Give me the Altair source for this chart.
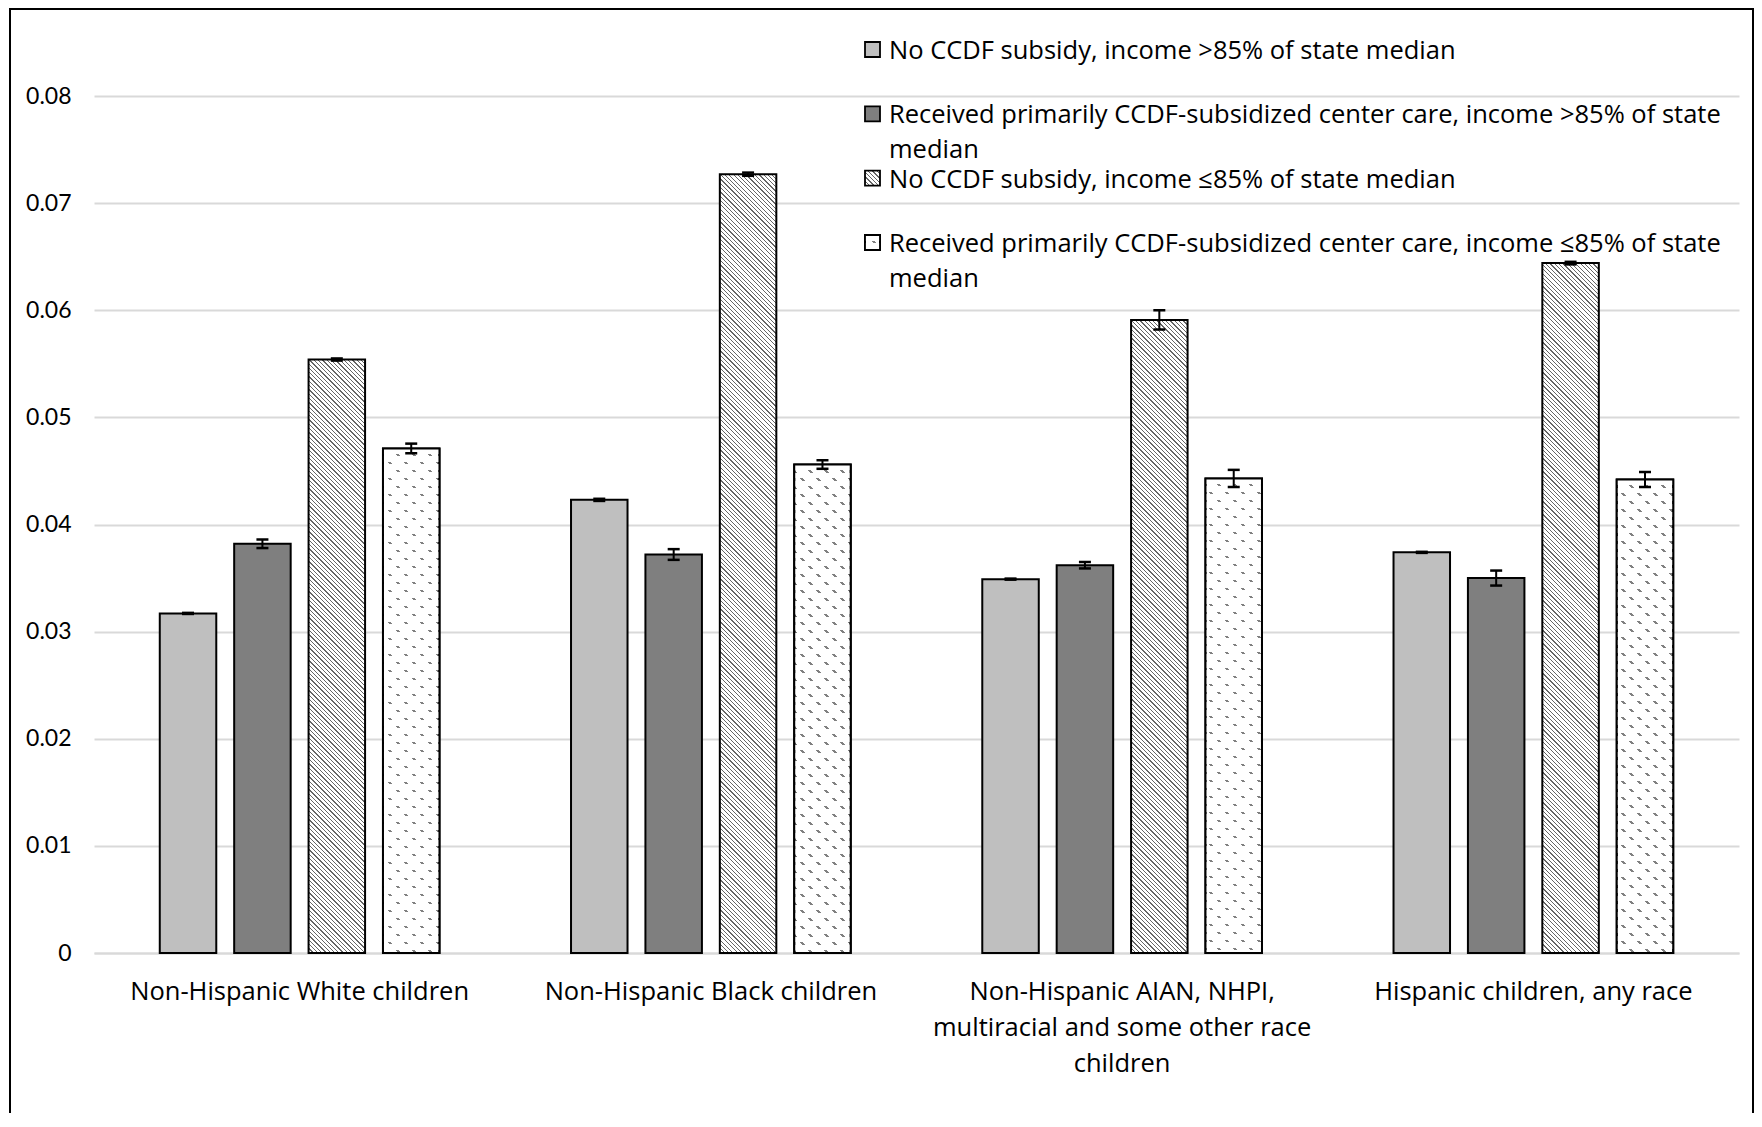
import altair as alt

# ---------------- data ----------------
categories = [
    "Non-Hispanic White children",
    "Non-Hispanic Black children",
    "Non-Hispanic AIAN, NHPI,\nmultiracial and some other race\nchildren",
    "Hispanic children, any race",
]
series = [
    "No CCDF subsidy, income >85% of state median",
    "Received primarily CCDF-subsidized center care, income >85% of state median",
    "No CCDF subsidy, income ≤85% of state median",
    "Received primarily CCDF-subsidized center care, income ≤85% of state median",
]
legend_labels = [
    "No CCDF subsidy, income >85% of state median",
    "Received primarily CCDF-subsidized center care, income >85% of state\nmedian",
    "No CCDF subsidy, income ≤85% of state median",
    "Received primarily CCDF-subsidized center care, income ≤85% of state\nmedian",
]
no_sub_high = [0.0317, 0.0423, 0.0349, 0.0374]
ccdf_high = [0.0382, 0.0372, 0.0362, 0.0350]
no_sub_low = [0.0554, 0.0727, 0.0591, 0.0644]
ccdf_low = [0.0471, 0.0456, 0.0443, 0.0442]
err_no_sub_high = [0.00005, 0.0001, 0.00005, 0.00005]
err_ccdf_high = [0.0004, 0.0005, 0.0003, 0.0007]
err_no_sub_low = [0.0001, 0.00015, 0.0009, 0.00012]
err_ccdf_low = [0.00045, 0.0004, 0.0008, 0.0007]
y_ticks = [0, 0.01, 0.02, 0.03, 0.04, 0.05, 0.06, 0.07, 0.08]

all_values = [no_sub_high, ccdf_high, no_sub_low, ccdf_low]
all_errors = [err_no_sub_high, err_ccdf_high, err_no_sub_low, err_ccdf_low]

# ---------------- layout / style ----------------
FONT = "Open Sans"
NUM_FONT = "Lato"
FS = 25.5
NUM_FS = 23
W, H = 1645, 857
YMAX = 0.08
PX = H / YMAX
GROUP_STEP = W / len(categories)
BAR_W, BAR_STEP = 56.5, 74.4
P_IN = 1 - BAR_W / BAR_STEP
P_OUT = (GROUP_STEP / BAR_STEP - len(series) + P_IN) / 2
LIGHT, DARK = "#bfbfbf", "#7f7f7f"
WHITE, CLEAR = "#ffffff", "rgba(255,255,255,0)"


def diag_grad(w, h, period, lw, color, bg=WHITE):
    """Diagonal '\\' stripes at 45 degrees inside a w x h box."""
    span = w + h
    c = w * (w + h) / (w * w + h * h)
    stops = [{"offset": 0, "color": bg}]
    k = 0
    while k * period < span:
        a = k * period
        b = min(a + lw, span)
        stops += [
            {"offset": round(a / span, 5), "color": bg},
            {"offset": round(a / span, 5), "color": color},
            {"offset": round(b / span, 5), "color": color},
            {"offset": round(b / span, 5), "color": bg},
        ]
        k += 1
    stops.append({"offset": 1, "color": bg})
    return {"gradient": "linear", "x1": 0, "y1": 1, "x2": round(c, 5),
            "y2": round(1 - c * h / w, 5), "stops": stops}


def band_grad(h, period, gap):
    """Horizontal opaque white bands with transparent gaps."""
    stops = []
    k = 0
    while k * period < h:
        a = k * period
        m = min(a + period - gap, h)
        e = min(a + period, h)
        stops += [
            {"offset": round(a / h, 5), "color": WHITE},
            {"offset": round(m / h, 5), "color": WHITE},
            {"offset": round(m / h, 5), "color": CLEAR},
            {"offset": round(e / h, 5), "color": CLEAR},
        ]
        k += 1
    return {"gradient": "linear", "x1": 0, "y1": 0, "x2": 0, "y2": 1, "stops": stops}


def fill_for(si, w, h):
    if si == 0:
        return LIGHT
    if si == 1:
        return DARK
    if si == 2:
        return diag_grad(w, h, 4.3, 1.25, "#666666")
    return diag_grad(w, h, 16, 3.0, "#808080")


bar_rows, dot_rows = [], []
for si, s in enumerate(series):
    for ci, c in enumerate(categories):
        v = all_values[si][ci]
        e = all_errors[si][ci]
        h = v * PX
        bar_rows.append({"cat": c, "ser": s, "v": v, "lo": v - e, "hi": v + e,
                         "fill": fill_for(si, BAR_W, h)})
        if si == 3:
            dot_rows.append({"cat": c, "ser": s, "v": v, "fill": band_grad(h, 8, 2.5)})

leg_rows, leg_dot_rows = [], []
for si, s in enumerate(series):
    leg_rows.append({"ser": s, "label": legend_labels[si], "fill": fill_for(si, 15, 15)})
    if si == 3:
        leg_dot_rows.append({"ser": s, "fill": band_grad(15, 8, 2.5)})

# ---------------- encodings ----------------
x_enc = alt.X("cat:N", sort=categories,
              scale=alt.Scale(domain=categories, paddingInner=0, paddingOuter=0),
              axis=alt.Axis(title=None, labelAngle=0, labelAlign="center",
                            labelExpr="split(datum.label, '\\n')",
                            labelLineHeight=36, labelPadding=26, labelLimit=600,
                            ticks=False, domain=True, domainColor="#d9d9d9",
                            domainWidth=2, grid=False, labelFont=FONT,
                            labelFontSize=FS, labelColor="#000000"))
xo_enc = alt.XOffset("ser:N", sort=series,
                     scale=alt.Scale(domain=series, paddingInner=P_IN, paddingOuter=P_OUT))
y_scale = alt.Scale(domain=[0, YMAX], nice=False, zero=True)
y_axis = alt.Axis(title=None, values=y_ticks, format=".2~f", ticks=False, domain=False,
                  grid=True, gridColor="#d9d9d9", gridWidth=2, labelPadding=23,
                  labelFont=NUM_FONT, labelFontSize=NUM_FS, labelColor="#000000")

bars = alt.Chart(alt.Data(values=bar_rows)).mark_bar(
    stroke="black", strokeWidth=2, opacity=1
).encode(
    x=x_enc, xOffset=xo_enc,
    y=alt.Y("v:Q", scale=y_scale, axis=y_axis),
    fill=alt.Fill("fill:N", scale=None),
)

dots_overlay = alt.Chart(alt.Data(values=dot_rows)).mark_bar(
    stroke="black", strokeWidth=2, opacity=1
).encode(
    x=x_enc, xOffset=xo_enc,
    y=alt.Y("v:Q", scale=y_scale, axis=y_axis),
    fill=alt.Fill("fill:N", scale=None),
)

err_rule = alt.Chart(alt.Data(values=bar_rows)).mark_rule(
    color="black", strokeWidth=2
).encode(
    x=x_enc, xOffset=xo_enc,
    y=alt.Y("lo:Q", scale=y_scale, axis=y_axis), y2="hi:Q",
)
err_lo = alt.Chart(alt.Data(values=bar_rows)).mark_tick(
    color="black", thickness=2.5, size=12, opacity=1
).encode(x=x_enc, xOffset=xo_enc, y=alt.Y("lo:Q", scale=y_scale, axis=y_axis))
err_hi = alt.Chart(alt.Data(values=bar_rows)).mark_tick(
    color="black", thickness=2.5, size=12, opacity=1
).encode(x=x_enc, xOffset=xo_enc, y=alt.Y("hi:Q", scale=y_scale, axis=y_axis))

main = alt.layer(bars, dots_overlay, err_rule, err_lo, err_hi)

leg_y = alt.Y("ser:N", sort=series,
              scale=alt.Scale(type="point", domain=series, range=[-46.5, 146.5], padding=0),
              axis=None)
leg_sq = alt.Chart(alt.Data(values=leg_rows)).mark_square(
    size=225, filled=True, opacity=1, stroke="black", strokeWidth=1.8
).encode(x=alt.value(778.5), y=leg_y, fill=alt.Fill("fill:N", scale=None))
leg_sq_dots = alt.Chart(alt.Data(values=leg_dot_rows)).mark_square(
    size=225, filled=True, opacity=1, stroke="black", strokeWidth=1.8
).encode(x=alt.value(778.5), y=leg_y, fill=alt.Fill("fill:N", scale=None))
leg_text = alt.Chart(alt.Data(values=leg_rows)).mark_text(
    align="left", baseline="top", font=FONT, fontSize=FS, lineBreak="\n",
    lineHeight=35, dy=-10.5, color="#000000"
).encode(x=alt.value(795), y=leg_y, text="label:N")

frame = alt.Chart(alt.Data(values=[{"k": 1}])).mark_rect(
    filled=False, color="black", strokeWidth=2
).encode(x=alt.value(-84), x2=alt.value(1659), y=alt.value(-87), y2=alt.value(1300))

chart = alt.layer(main, leg_sq, leg_sq_dots, leg_text, frame).resolve_scale(
    y="independent"
).properties(
    width=W, height=H,
    padding={"left": 86, "top": 88, "right": 15, "bottom": 160},
    autosize=alt.AutoSizeParams(type="none"),
    background="white",
).configure_view(stroke="transparent")

chart.save("out.html", embed_options={"renderer": "svg", "actions": False})
